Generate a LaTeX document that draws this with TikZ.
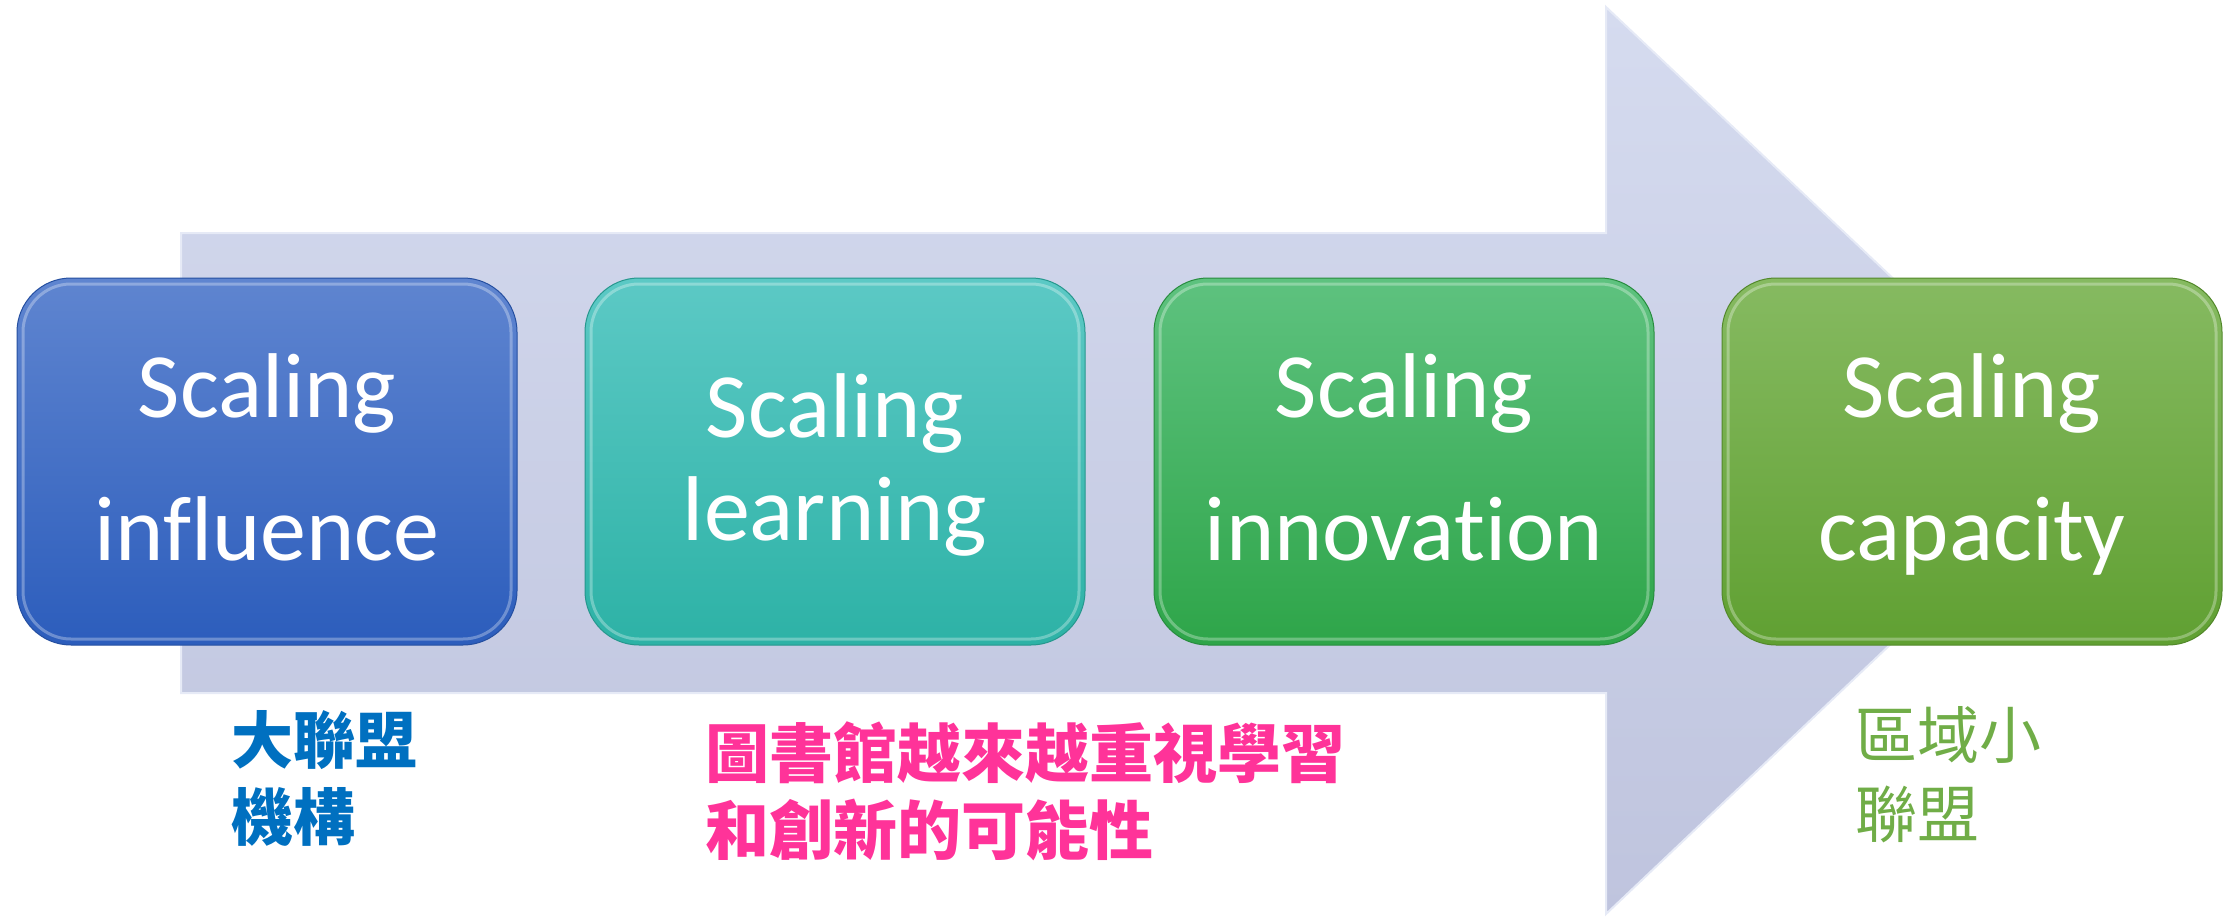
\documentclass[tikz,border=0pt]{standalone}
\usepackage{fontspec}
\setmainfont[Ligatures={NoCommon}]{Carlito}
\newfontfamily\cjkfont{Noto Sans CJK TC}
\definecolor{arrowtop}{HTML}{D5DBEF}
\definecolor{arrowbot}{HTML}{BFC4DE}
\definecolor{arrowedge}{HTML}{E6EAF6}
\definecolor{bAtop}{HTML}{5F85D0}
\definecolor{bAbot}{HTML}{2C5DBC}
\definecolor{bBtop}{HTML}{5CC9C5}
\definecolor{bBbot}{HTML}{2DB2A6}
\definecolor{bCtop}{HTML}{5EC27F}
\definecolor{bCbot}{HTML}{2EA549}
\definecolor{bDtop}{HTML}{86BA61}
\definecolor{bDbot}{HTML}{60A032}
\definecolor{lblblue}{HTML}{0070C0}
\definecolor{lblpink}{HTML}{FF3399}
\definecolor{lblgreen}{HTML}{70AD47}
\newcommand{\boxtextfont}{\fontsize{92}{110}\selectfont}
\newcommand{\cjktextfont}{\cjkfont\fontsize{62}{77}\selectfont}
\newcommand{\cjkpinkfont}{\cjkfont\fontsize{64}{77}\selectfont}
\begin{document}
\begin{tikzpicture}[x=1pt,y=-1pt,
  stagebox/.style={rectangle, rounded corners=54pt, minimum width=500pt,
    minimum height=367pt, inner sep=0pt, line width=1pt},
  gloss/.style={draw=white, draw opacity=0.3, line width=3pt, rounded corners=48pt},
  boxtext/.style={anchor=base, text=white, font=\boxtextfont, inner sep=0pt},
  cjklbl/.style={anchor=base west, font=\cjktextfont, inner sep=0pt}]
\useasboundingbox (0,0) rectangle (2239,918);

% big background arrow
\path[top color=arrowtop, bottom color=arrowbot, draw=arrowedge, line width=2pt]
  (181,233) -- (1606,233) -- (1606,7) -- (2085,460) -- (1606,914) -- (1606,693) -- (181,693) -- cycle;

% stage boxes
\node[stagebox, top color=bAtop, bottom color=bAbot, draw=bAbot!85!black] (b1) at (267,461.5) {};
\node[stagebox, top color=bBtop, bottom color=bBbot, draw=bBbot!85!black] (b2) at (835,461.5) {};
\node[stagebox, top color=bCtop, bottom color=bCbot, draw=bCbot!85!black] (b3) at (1404,461.5) {};
\node[stagebox, top color=bDtop, bottom color=bDbot, draw=bDbot!85!black] (b4) at (1972,461.5) {};

\foreach \cx in {267,835,1404,1972}{
  \path[gloss] (\cx-244,284) rectangle (\cx+244,639);
}

% box texts
\node[boxtext] (t1a) at (267,417) {Scaling};
\node[boxtext] (t1b) at (267,560) {influence};
\node[boxtext] (t2a) at (835,437) {Scaling};
\node[boxtext] (t2b) at (835,540) {learning};
\node[boxtext] (t3a) at (1404,417) {Scaling};
\node[boxtext] (t3b) at (1404,560) {innovation};
\node[boxtext] (t4a) at (1972,417) {Scaling};
\node[boxtext] (t4b) at (1972,560) {capacity};

% labels under the arrow
\node[cjklbl, text=lblblue, font=\cjktextfont\bfseries] (l1a) at (231,763) {大聯盟};
\node[cjklbl, text=lblblue, font=\cjktextfont\bfseries] (l1b) at (231,840) {機構};
\node[cjklbl, text=lblpink, font=\cjkpinkfont\bfseries] (l2a) at (705,777) {圖書館越來越重視學習};
\node[cjklbl, text=lblpink, font=\cjkpinkfont\bfseries] (l2b) at (705,854) {和創新的可能性};
\node[cjklbl, text=lblgreen] (l3a) at (1855,758) {區域小};
\node[cjklbl, text=lblgreen] (l3b) at (1855,837) {聯盟};
\end{tikzpicture}
\end{document}
